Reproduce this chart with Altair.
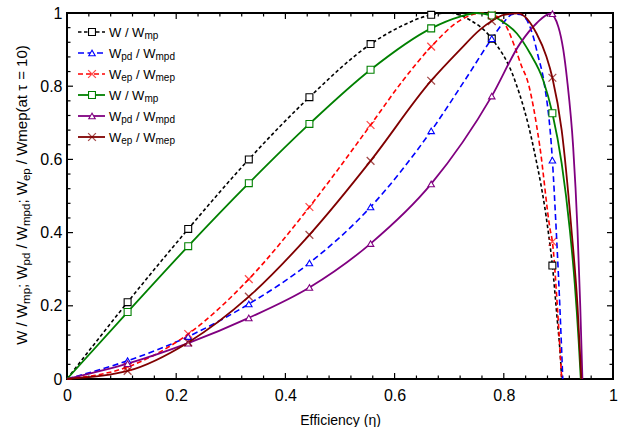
import altair as alt
import pandas as pd

FONT = "Liberation Sans"
W, H = 546, 366

# ---------------- data ----------------
mk_eta = [0.111, 0.222, 0.333, 0.444, 0.556, 0.667, 0.778, 0.889]

# W / Wmp (black dashed)
k_eta = [0, 0.111, 0.222, 0.333, 0.444, 0.556, 0.611, 0.667, 0.70, 0.738, 0.778, 0.82, 0.854, 0.881, 0.889, 0.898, 0.903, 0.906]
k_val = [0, 0.21, 0.41, 0.60, 0.77, 0.915, 0.963, 0.995, 1.0, 0.981, 0.93, 0.817, 0.635, 0.407, 0.31, 0.16, 0.075, 0]
k_mk = [0.21, 0.41, 0.60, 0.77, 0.915, 0.995, 0.93, 0.31]

# Wpd / Wmpd (blue dashed)
b_eta = [0, 0.111, 0.222, 0.333, 0.444, 0.556, 0.667, 0.729, 0.778, 0.80, 0.817, 0.83, 0.842, 0.854, 0.863, 0.873, 0.889, 0.896, 0.902, 0.908]
b_val = [0, 0.05, 0.116, 0.205, 0.317, 0.47, 0.678, 0.817, 0.93, 0.975, 0.997, 0.996, 0.981, 0.935, 0.881, 0.817, 0.598, 0.407, 0.22, 0]
b_mk = [0.05, 0.116, 0.205, 0.317, 0.47, 0.678, 0.93, 0.598]

# Wep / Wmep (red dashed)
r_eta = [0, 0.111, 0.222, 0.333, 0.444, 0.556, 0.616, 0.667, 0.72, 0.76, 0.778, 0.793, 0.805, 0.82, 0.833, 0.843, 0.866, 0.885, 0.889, 0.898, 0.906]
r_val = [0, 0.033, 0.123, 0.273, 0.47, 0.694, 0.817, 0.908, 0.98, 1.0, 0.995, 0.985, 0.962, 0.908, 0.853, 0.817, 0.635, 0.407, 0.375, 0.2, 0]
r_mk = [0.033, 0.123, 0.273, 0.47, 0.694, 0.908, 0.995, 0.375]

# W / Wmp at tau = 10 (green solid)
g_eta = [0, 0.111, 0.222, 0.333, 0.444, 0.556, 0.667, 0.72, 0.75, 0.778, 0.793, 0.824, 0.848, 0.872, 0.889, 0.906, 0.921, 0.93, 0.937, 0.941]
g_val = [0, 0.183, 0.363, 0.535, 0.697, 0.845, 0.958, 0.99, 1.0, 0.993, 0.981, 0.944, 0.89, 0.817, 0.726, 0.589, 0.407, 0.26, 0.107, 0]
g_mk = [0.183, 0.363, 0.535, 0.697, 0.845, 0.958, 0.993, 0.726]

# Wpd / Wmpd at tau = 10 (purple solid)
p_eta = [0, 0.111, 0.222, 0.333, 0.444, 0.556, 0.667, 0.778, 0.83, 0.86, 0.885, 0.9, 0.909, 0.916, 0.927, 0.935, 0.94, 0.944]
p_val = [0, 0.042, 0.098, 0.167, 0.25, 0.37, 0.533, 0.773, 0.917, 0.972, 0.998, 0.962, 0.899, 0.817, 0.635, 0.407, 0.2, 0]
p_mk = [0.042, 0.098, 0.167, 0.25, 0.37, 0.533, 0.773, 0.998]

# Wep / Wmep at tau = 10 (brown solid)
n_eta = [0, 0.111, 0.222, 0.333, 0.444, 0.556, 0.667, 0.72, 0.756, 0.778, 0.80, 0.826, 0.86, 0.878, 0.889, 0.906, 0.924, 0.935, 0.942]
n_val = [0, 0.022, 0.10, 0.225, 0.394, 0.596, 0.815, 0.90, 0.954, 0.978, 0.995, 0.999, 0.944, 0.881, 0.823, 0.68, 0.407, 0.2, 0]
n_mk = [0.022, 0.10, 0.225, 0.394, 0.596, 0.815, 0.978, 0.823]

major_ticks = [0, 0.2, 0.4, 0.6, 0.8, 1]
minor_ticks = [round(i * 0.04, 2) for i in range(26) if i % 5]

X_PATH = "M-1,-1L1,1M-1,1L1,-1"

LBL_W = [("W / W", 0), ("mp", 1)]
LBL_PD = [("W", 0), ("pd", 1), (" / W", 0), ("mpd", 1)]
LBL_EP = [("W", 0), ("ep", 1), (" / W", 0), ("mep", 1)]

series = [
    (k_eta, k_val, k_mk, "#000000", [3.5, 2.5], "square", LBL_W),
    (b_eta, b_val, b_mk, "#0000FF", [6, 3.5], "triangle-up", LBL_PD),
    (r_eta, r_val, r_mk, "#FF0000", [5, 3], "x", LBL_EP),
    (g_eta, g_val, g_mk, "#008000", None, "square", LBL_W),
    (p_eta, p_val, p_mk, "#800080", None, "triangle-up", LBL_PD),
    (n_eta, n_val, n_mk, "#800000", None, "x", LBL_EP),
]

# ---------------- helpers ----------------
ARIAL = {' ': 278, '/': 278, ';': 278, '(': 333, ')': 333, '=': 584, '0': 556, '1': 556,
         'W': 944, 'm': 833, 'p': 556, 'd': 556, 'e': 556, 'a': 556, 't': 278, 'τ': 450}


def tw(s, fs):
    return sum(ARIAL.get(c, 556) for c in s) / 1000.0 * fs


dummy = pd.DataFrame({"d": [0]})

x_scale = alt.Scale(domain=[0, 1], nice=False, zero=False)
y_scale = alt.Scale(domain=[0, 1], nice=False, zero=False)

x_axis = alt.Axis(values=major_ticks, format="~g", ticks=False, domain=False, grid=False,
                  labelFont=FONT, labelFontSize=16, labelColor="black", labelPadding=8,
                  labelFlush=False, title="Efficiency  (η)", titleFont=FONT, titleFontSize=14,
                  titleFontWeight="normal", titleColor="black", titlePadding=10)
y_axis = alt.Axis(values=major_ticks, format="~g", ticks=False, domain=False, grid=False,
                  labelFont=FONT, labelFontSize=16, labelColor="black", labelPadding=5,
                  labelFlush=False, title="")


def X(f):
    return alt.X(f, type="quantitative", scale=x_scale, axis=x_axis)


def Y(f):
    return alt.Y(f, type="quantitative", scale=y_scale, axis=y_axis)


def text_piece(t, x, y, fs, angle=0):
    kw = dict(text=t, font=FONT, fontSize=fs, align="left", baseline="alphabetic", color="black")
    if angle:
        kw["angle"] = angle
    return alt.Chart(dummy).mark_text(**kw).encode(x=alt.value(x), y=alt.value(y))


def rich_h(pieces, x0, yb, fs, sfs, drop):
    out = []
    x = x0
    for t, sub in pieces:
        f = sfs if sub else fs
        lead = len(t) - len(t.lstrip(" "))
        x += tw(" " * lead, f)
        core = t.strip(" ")
        out.append(text_piece(core, x, yb + (drop if sub else 0), f))
        x += tw(t.lstrip(" "), f)
    return out


def rich_v(pieces, xb, y0, fs, sfs, drop):
    out = []
    y = y0
    for t, sub in pieces:
        f = sfs if sub else fs
        lead = len(t) - len(t.lstrip(" "))
        y -= tw(" " * lead, f)
        core = t.strip(" ")
        out.append(text_piece(core, xb + (drop if sub else 0), y, f, angle=270))
        y -= tw(t.lstrip(" "), f)
    return out


def shape_kw(shape, color):
    if shape == "x":
        return dict(shape=X_PATH, filled=False, stroke=color, strokeWidth=1.3, size=60)
    return dict(shape=shape, filled=True, fill="white", stroke=color, strokeWidth=1.1,
                size=48 if shape == "square" else 42, opacity=1)


layers = []

# inward ticks
tick_df_major = pd.DataFrame({"v": major_ticks})
tick_df_minor = pd.DataFrame({"v": minor_ticks})
for df, ln in ((tick_df_major, 6), (tick_df_minor, 3.5)):
    rule = alt.Chart(df).mark_rule(color="black", strokeWidth=1.2)
    layers.append(rule.encode(x=X("v"), y=alt.value(H), y2=alt.value(H - ln)))
    layers.append(rule.encode(x=X("v"), y=alt.value(0), y2=alt.value(ln)))
    layers.append(rule.encode(y=Y("v"), x=alt.value(0), x2=alt.value(ln)))
    layers.append(rule.encode(y=Y("v"), x=alt.value(W), x2=alt.value(W - ln)))

# curves
for eta, val, mk, color, dash, shape, lab in series:
    df = pd.DataFrame({"eta": eta, "val": val})
    kw = dict(color=color, strokeWidth=1.6 if dash else 1.8, interpolate="monotone")
    if dash:
        kw["strokeDash"] = dash
    layers.append(alt.Chart(df).mark_line(**kw).encode(x=X("eta"), y=Y("val")))

# markers
for eta, val, mk, color, dash, shape, lab in series:
    df = pd.DataFrame({"eta": mk_eta, "val": mk})
    layers.append(alt.Chart(df).mark_point(**shape_kw(shape, color)).encode(x=X("eta"), y=Y("val")))

# legend (inside, top-left)
for i, (eta, val, mk, color, dash, shape, lab) in enumerate(series):
    cy = 19 + 21 * i
    kw = dict(color=color, strokeWidth=1.6 if dash else 1.8)
    if dash:
        kw["strokeDash"] = dash
    layers.append(alt.Chart(dummy).mark_rule(**kw).encode(
        x=alt.value(11), x2=alt.value(38), y=alt.value(cy)))
    layers.append(alt.Chart(dummy).mark_point(**shape_kw(shape, color)).encode(
        x=alt.value(25), y=alt.value(cy)))
    layers += rich_h(lab, 42, cy + 4.5, 13, 10, 2.5)

# y-axis title with subscripts (rotated)
ytitle = [("W / W", 0), ("mp", 1), ("; W", 0), ("pd", 1), (" / W", 0), ("mpd", 1),
          ("; W", 0), ("ep", 1), (" / Wmep(at ", 0), ("τ", 0), (" = 10)", 0)]
YT_FS, YT_SFS = 15, 11.5
total = sum(tw(t, YT_SFS if s else YT_FS) for t, s in ytitle)
layers += rich_v(ytitle, -40, 182 + total / 2, YT_FS, YT_SFS, 3)

chart = alt.layer(*layers).properties(
    width=W, height=H,
    autosize=alt.AutoSizeParams(type="none"),
    padding={"left": 67, "top": 13, "right": 13, "bottom": 48},
    background="white",
).configure_view(stroke="black", strokeWidth=2)

chart.save("out.html", embed_options={"renderer": "svg", "actions": False})
